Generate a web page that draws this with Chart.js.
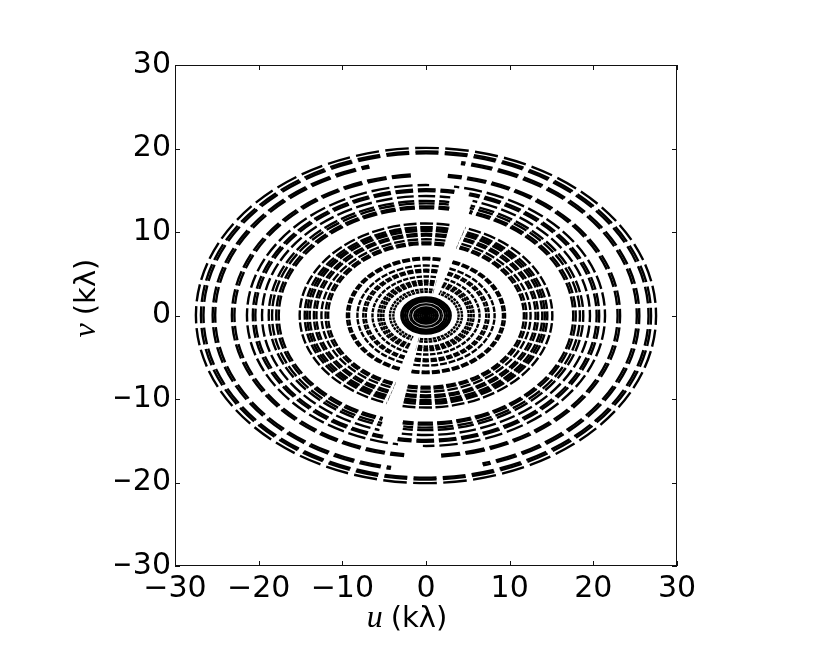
<!DOCTYPE html>
<html>
<head>
<meta charset="utf-8">
<script src="https://cdn.jsdelivr.net/npm/chart.js@4"></script>
<style>
  html, body { margin: 0; padding: 0; background: #fff; }
  #wrap { width: 830px; height: 652px; }
</style>
</head>
<body>
<div id="wrap"><canvas id="uv-chart" width="830" height="652"></canvas></div>
<script>
// uv coverage: one elliptical track per baseline (plus its conjugate)

// short baselines, unbroken tracks that fill the centre (u semi-axis, kλ)
const coreU = [0.2, 0.45, 0.7, 0.95, 1.2, 1.45, 1.75, 2.0, 2.25, 2.5, 2.75, 2.95];
// the rest of the tracks, semi-axis along u (kλ)
const trackU = [
    3.9, 4.3, 5.1, 5.4, 5.7, 6.4, 7.2, 7.5, 8.2, 9.2, 9.45,
    11.7, 12.0, 12.5, 13.1, 13.4, 13.9, 14.2, 14.5, 15.1,
    17.6, 17.9, 18.4, 18.8, 19.6, 20.4, 20.7, 21.4, 22.9, 23.2,
    25.2, 25.5, 26.6, 26.9, 27.5
];
// hour angle (deg, clockwise from +v) where each track is interrupted
const gapCentre = [
    18, 18, 17, 17, 17, 16, 16, 16, 16, 15, 15,
    14.5, 14.5, 14.5, 14.5, 14.5, 14.5, 14.5, 14.5, 14.5,
    13, 13, 12.5, 12.5, 12.5, 12, 12, 5, 1, 1,
    -3, -3, 0, 0, 0
];
// width of that interruption (deg)
const gapWidth = [
    10, 10, 9, 9, 9, 9, 9, 9, 8, 8, 8,
    7, 7, 7, 7, 7, 7, 7, 7, 7,
    8, 8, 8, 8, 8, 5, 5, 8, 11, 11,
    25, 25, 0, 0, 0
];
const vOverU = 0.73;          // track axis ratio v/u
const sampleStep = 7.5;       // deg of hour angle per sample block
const sampleGap = 1.6;        // deg missing between blocks
const samplePhase = 4;

const axisTicks = [-30, -20, -10, 0, 10, 20, 30];

const minus = v => {
    const n = Number(v);
    return n < 0 ? '\u2212' + String(-n) : String(n);
};

const tracksPlugin = {
    id: 'tracks',
    afterDatasetsDraw(chart) {
        const { ctx, chartArea, scales } = chart;
        const x = scales.x, y = scales.y;
        const cx = x.getPixelForValue(0), cy = y.getPixelForValue(0);
        ctx.save();
        ctx.beginPath();
        ctx.rect(chartArea.left, chartArea.top, chartArea.right - chartArea.left, chartArea.bottom - chartArea.top);
        ctx.clip();
        ctx.strokeStyle = '#000';
        ctx.lineWidth = 2.4;
        ctx.lineCap = 'butt';
        coreU.forEach(a => {
            ctx.beginPath();
            ctx.ellipse(cx, cy, x.getPixelForValue(a) - cx, cy - y.getPixelForValue(a * vOverU), 0, 0, 2 * Math.PI);
            ctx.stroke();
        });
        const rad = d => (d - 90) * Math.PI / 180;
        trackU.forEach((a, i) => {
            const rx = x.getPixelForValue(a) - cx;
            const ry = cy - y.getPixelForValue(a * vOverU);
            [0, 180].forEach(h => {
                const from = gapCentre[i] + gapWidth[i] / 2 + h;
                const to = gapCentre[i] - gapWidth[i] / 2 + 180 + h;
                let k = Math.floor((from - samplePhase) / sampleStep) - 1;
                for (; samplePhase + k * sampleStep < to; k++) {
                    const s = Math.max(from, samplePhase + k * sampleStep + sampleGap / 2);
                    const e = Math.min(to, samplePhase + (k + 1) * sampleStep - sampleGap / 2);
                    if (e <= s) continue;
                    ctx.beginPath();
                    ctx.ellipse(cx, cy, rx, ry, 0, rad(s), rad(e));
                    ctx.stroke();
                }
            });
        });
        // a few faint breaks inside the filled centre
        ctx.strokeStyle = '#fff';
        ctx.lineWidth = 0.7;
        [1.6, 2.1].forEach(a => {
            ctx.beginPath();
            ctx.ellipse(cx, cy, x.getPixelForValue(a) - cx, cy - y.getPixelForValue(a * vOverU), 0, 0, 2 * Math.PI);
            ctx.stroke();
        });
        ctx.restore();
    }
};

const framePlugin = {
    id: 'frame',
    afterDraw(chart) {
        const { ctx, chartArea: c, scales } = chart;
        ctx.save();
        ctx.strokeStyle = '#111';
        ctx.lineWidth = 1;
        ctx.strokeRect(c.left + 0.5, c.top + 0.5, c.right - c.left - 1, c.bottom - c.top - 1);
        // inward ticks on all four sides
        axisTicks.forEach(t => {
            const px = Math.round(scales.x.getPixelForValue(t)) + 0.5;
            const py = Math.round(scales.y.getPixelForValue(t)) + 0.5;
            ctx.beginPath();
            ctx.moveTo(px, c.bottom); ctx.lineTo(px, c.bottom - 5);
            ctx.moveTo(px, c.top); ctx.lineTo(px, c.top + 5);
            ctx.moveTo(c.left, py); ctx.lineTo(c.left + 5, py);
            ctx.moveTo(c.right, py); ctx.lineTo(c.right - 5, py);
            ctx.stroke();
        });
        // axis titles: italic u / v followed by (kλ)
        const drawTitle = (sym, x0, y0) => {
            ctx.font = 'italic 32px "Liberation Serif"';
            const w1 = ctx.measureText(sym + ' ').width;
            ctx.font = '29px "DejaVu Sans"';
            const w2 = ctx.measureText('(k\u03bb)').width;
            const left = x0 - (w1 + w2) / 2;
            ctx.fillStyle = '#000';
            ctx.textBaseline = 'alphabetic';
            ctx.textAlign = 'left';
            ctx.font = 'italic 32px "Liberation Serif"';
            ctx.fillText(sym, left, y0);
            ctx.font = '29px "DejaVu Sans"';
            ctx.fillText('(k\u03bb)', left + w1, y0);
        };
        drawTitle('u', 407, 627);
        ctx.save();
        ctx.translate(95, 298);
        ctx.rotate(-Math.PI / 2);
        drawTitle('v', 0, 0);
        ctx.restore();
        ctx.restore();
    }
};

const tickFont = { family: 'DejaVu Sans', size: 30 };

new Chart(document.getElementById('uv-chart').getContext('2d'), {
    type: 'scatter',
    data: { datasets: [{ data: [] }] },
    options: {
        responsive: false,
        animation: false,
        devicePixelRatio: 1,
        layout: { padding: { left: 115, right: 153, top: 65, bottom: 46 } },
        plugins: { legend: { display: false }, tooltip: { enabled: false } },
        scales: {
            x: {
                type: 'linear', min: -30, max: 30,
                afterFit: s => { s.height = 40; },
                afterBuildTicks: s => { s.ticks = axisTicks.map(v => ({ value: v })); },
                ticks: { font: tickFont, color: '#000', padding: -3, maxRotation: 0, callback: minus },
                grid: { display: false },
                border: { display: false }
            },
            y: {
                type: 'linear', min: -30, max: 30,
                afterFit: s => { s.width = 60; },
                afterBuildTicks: s => { s.ticks = axisTicks.map(v => ({ value: v })); },
                ticks: { font: tickFont, color: '#000', padding: -4, callback: minus },
                grid: { display: false },
                border: { display: false }
            }
        }
    },
    plugins: [tracksPlugin, framePlugin]
});
</script>
</body>
</html>
